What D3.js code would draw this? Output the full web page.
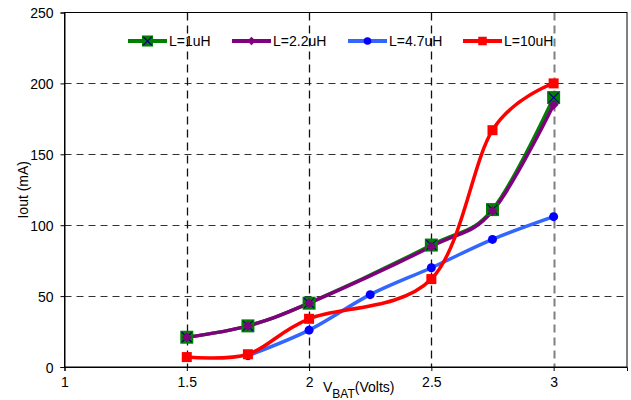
<!DOCTYPE html>
<html>
<head>
<meta charset="utf-8">
<script src="https://cdn.jsdelivr.net/npm/d3@7"></script>
<style>
  body { margin: 0; background: #fff; }
  text { font-family: "Liberation Sans", Arial, sans-serif; }
</style>
</head>
<body>
<div id="chart"></div>
<script>
// chart data
const xTicks = [1, 1.5, 2, 2.5, 3];
const yTicks = [0, 50, 100, 150, 200, 250];
const seriesNames = ["L=1uH", "L=2.2uH", "L=4.7uH", "L=10uH"];
const xL1 = [1.5, 1.75, 2, 2.5, 2.75, 3];
const yL1 = [21, 29, 45, 86, 111, 190];
const xL22 = [1.5, 1.75, 2, 2.5, 2.75, 3];
const yL22 = [21, 29, 45, 85, 110, 185];
const xL47 = [1.75, 2, 2.25, 2.5, 2.75, 3];
const yL47 = [8, 26, 51, 70, 90, 106];
const xL10 = [1.5, 1.75, 2, 2.5, 2.75, 3];
const yL10 = [7, 9, 34, 62, 167, 200];

const width = 631, height = 400;
const margin = { left: 64.5, top: 12.5, right: 4, bottom: 33 };

const svg = d3.select('#chart')
  .append('svg')
  .attr('width', width)
  .attr('height', height);

const x = d3.scaleLinear().domain([1, 3.3]).range([margin.left, width - margin.right]);
const y = d3.scaleLinear().domain([0, 250]).range([height - margin.bottom, margin.top]);

// grid lines
svg.append('g')
  .selectAll('line')
  .data(yTicks.filter(d => d > 0 && d < 250))
  .enter()
  .append('line')
  .attr('x1', x(1)).attr('x2', x(3.3))
  .attr('y1', d => Math.round(y(d)) + 0.5).attr('y2', d => Math.round(y(d)) + 0.5)
  .attr('stroke', '#333')
  .attr('stroke-dasharray', '7,5');

svg.append('g')
  .selectAll('line')
  .data(xTicks.filter(d => d > 1))
  .enter()
  .append('line')
  .attr('x1', d => Math.round(x(d)) + 0.5).attr('x2', d => Math.round(x(d)) + 0.5)
  .attr('y1', y(250)).attr('y2', y(0))
  .attr('stroke', d => d === 3 ? '#808080' : '#111')
  .attr('stroke-width', d => d === 3 ? 2 : 1.3)
  .attr('stroke-dasharray', '8,5');

// plot border
svg.append('rect')
  .attr('x', x(1)).attr('y', y(250))
  .attr('width', x(3.3) - x(1)).attr('height', y(0) - y(250))
  .attr('fill', 'none')
  .attr('stroke', '#000');

// axes
const xAxis = svg.append('g')
  .attr('transform', `translate(0,${y(0)})`)
  .call(d3.axisBottom(x).tickValues(xTicks).tickSize(4).tickFormat(d3.format('')));
const yAxis = svg.append('g')
  .attr('transform', `translate(${x(1)},0)`)
  .call(d3.axisLeft(y).tickValues(yTicks).tickSize(4));
[xAxis, yAxis].forEach(g => {
  g.select('.domain').attr('stroke', '#000');
  g.selectAll('text').attr('font-size', 14).attr('fill', '#000')
    .style('font-family', '"Liberation Sans", Arial, sans-serif');
});
xAxis.selectAll('text').attr('y', 20).attr('dy', 0);
yAxis.selectAll('text').attr('x', -11).attr('dy', '0.36em');

// axis titles
const xTitle = svg.append('text')
  .attr('x', 323).attr('y', 392)
  .attr('font-size', 14);
xTitle.append('tspan').text('V');
xTitle.append('tspan').attr('font-size', 12).attr('dy', 6).text('BAT');
xTitle.append('tspan').attr('dy', -6).text('(Volts)');

svg.append('text')
  .attr('transform', `translate(28,${y(125)}) rotate(-90)`)
  .attr('text-anchor', 'middle')
  .attr('font-size', 14)
  .text('Iout (mA)');

// series
const series = [
  { name: seriesNames[0], xs: xL1, ys: yL1, color: 'green', marker: 'boxx' },
  { name: seriesNames[1], xs: xL22, ys: yL22, color: 'purple', marker: 'diamond' },
  { name: seriesNames[2], xs: xL47, ys: yL47, color: '#3366ff', marker: 'circle' },
  { name: seriesNames[3], xs: xL10, ys: yL10, color: 'red', marker: 'square' }
];

const line = d3.line()
  .x(d => x(d[0]))
  .y(d => y(d[1]))
  .curve(d3.curveCardinal.tension(0));

// k scales marker size (plot vs legend)
function drawMarker(g, type, cx, cy, k) {
  if (type === 'boxx') {
    const h = 6.5 * k, c = 5 * k;
    g.append('rect').attr('x', cx - h).attr('y', cy - h).attr('width', 2 * h).attr('height', 2 * h)
      .attr('fill', 'green');
    g.append('path')
      .attr('d', `M${cx - c},${cy - c}L${cx + c},${cy + c}M${cx - c},${cy + c}L${cx + c},${cy - c}`)
      .attr('stroke', '#000080').attr('stroke-width', 1.2);
  } else if (type === 'diamond') {
    const h = 5 * k;
    g.append('path')
      .attr('d', `M${cx},${cy - h}L${cx + h},${cy}L${cx},${cy + h}L${cx - h},${cy}Z`)
      .attr('fill', 'purple');
  } else if (type === 'circle') {
    g.append('circle').attr('cx', cx).attr('cy', cy).attr('r', 4.5 * k).attr('fill', 'blue');
  } else if (type === 'square') {
    const h = 5 * k;
    g.append('rect').attr('x', cx - h).attr('y', cy - h).attr('width', 2 * h).attr('height', 2 * h)
      .attr('fill', 'red');
  }
}

series.forEach(s => {
  const pts = s.xs.map((v, i) => [v, s.ys[i]]);
  svg.append('path')
    .datum(pts)
    .attr('d', line)
    .attr('fill', 'none')
    .attr('stroke', s.color)
    .attr('stroke-width', 3.5);
});

// markers drawn in series order so later series sit on top
series.forEach(s => {
  const g = svg.append('g');
  s.xs.forEach((v, i) => drawMarker(g, s.marker, x(v), y(s.ys[i]), 1));
});

// legend
const legendX = [128, 232, 348, 463];
series.forEach((s, i) => {
  const g = svg.append('g');
  const lx = legendX[i], ly = 41;
  g.append('line')
    .attr('x1', lx).attr('x2', lx + 39)
    .attr('y1', ly).attr('y2', ly)
    .attr('stroke', s.color).attr('stroke-width', 4);
  drawMarker(g, s.marker, lx + 19.5, ly, 0.85);
  g.append('text')
    .attr('x', lx + 41).attr('y', ly + 5)
    .attr('font-size', 14)
    .text(s.name);
});
</script>
</body>
</html>
